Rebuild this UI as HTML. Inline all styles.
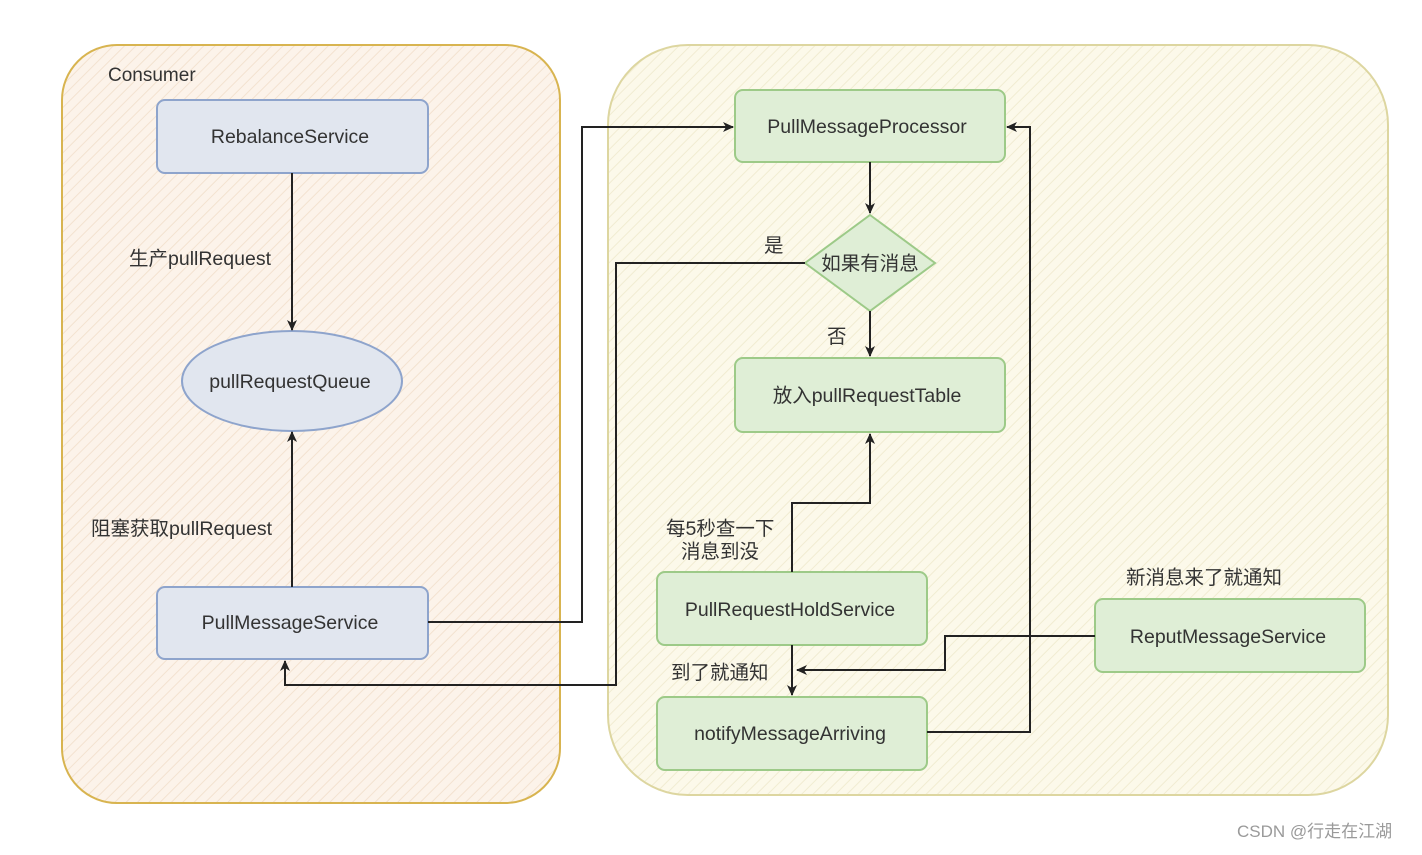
<!DOCTYPE html>
<html><head><meta charset="utf-8"><style>
body{margin:0;background:#fff;}
svg text{font-family:"Liberation Sans","Noto Sans CJK SC",sans-serif;fill:#333;}
</style></head><body>
<svg width="1422" height="850" viewBox="0 0 1422 850" xmlns="http://www.w3.org/2000/svg">
<defs>
<pattern id="h1" width="8" height="8" patternUnits="userSpaceOnUse" patternTransform="rotate(45)"><rect width="8" height="8" fill="#fcf3ea"/><line x1="0" y1="0" x2="0" y2="8" stroke="#f3e2d0" stroke-width="2"/></pattern>
<pattern id="h2" width="8" height="8" patternUnits="userSpaceOnUse" patternTransform="rotate(45)"><rect width="8" height="8" fill="#fcf9ea"/><line x1="0" y1="0" x2="0" y2="8" stroke="#f1ecd2" stroke-width="2"/></pattern>
<marker id="a" markerWidth="12" markerHeight="12" refX="10" refY="6" orient="auto" markerUnits="userSpaceOnUse"><path d="M0,1 L11,6 L0,11 L3,6 Z" fill="#222"/></marker>
</defs>
<rect x="62" y="45" width="498" height="758" rx="55" fill="url(#h1)" stroke="#d8b450" stroke-width="2"/>
<rect x="608" y="45" width="780" height="750" rx="80" fill="url(#h2)" stroke="#ddd6a0" stroke-width="2"/>
<text x="108" y="81" font-size="19">Consumer</text>
<g stroke="#8ea4cc" stroke-width="2" fill="#e1e6ef">
<rect x="157" y="100" width="271" height="73" rx="8"/>
<rect x="157" y="587" width="271" height="72" rx="8"/>
<ellipse cx="292" cy="381" rx="110" ry="50"/>
</g>
<g stroke="#9dca88" stroke-width="2" fill="#dfeed6">
<rect x="735" y="90" width="270" height="72" rx="8"/>
<polygon points="870,215 935,263 870,311 805,263"/>
<rect x="735" y="358" width="270" height="74" rx="8"/>
<rect x="657" y="572" width="270" height="73" rx="8"/>
<rect x="657" y="697" width="270" height="73" rx="8"/>
<rect x="1095" y="599" width="270" height="73" rx="8"/>
</g>
<g font-size="19.5" text-anchor="middle">
<text x="290" y="143">RebalanceService</text>
<text x="290" y="629">PullMessageService</text>
<text x="290" y="388">pullRequestQueue</text>
<text x="867" y="133">PullMessageProcessor</text>
<text x="870" y="270">如果有消息</text>
<text x="867" y="402">放入pullRequestTable</text>
<text x="790" y="616">PullRequestHoldService</text>
<text x="790" y="740">notifyMessageArriving</text>
<text x="1228" y="643">ReputMessageService</text>
</g>
<g fill="none" stroke="#222" stroke-width="2" marker-end="url(#a)">
<path d="M292,173 V330"/>
<path d="M292,587 V432"/>
<path d="M428,622 H582 V127 H733"/>
<path d="M805,263 H616 V685 H285 V661"/>
<path d="M870,162 V213"/>
<path d="M870,311 V356"/>
<path d="M792,572 V503 H870 V434"/>
<path d="M792,645 V695"/>
<path d="M1095,636 H945 V670 H797"/>
<path d="M927,732 H1030 V127 H1007"/>
</g>
<g font-size="19.5">
<text x="129" y="265">生产pullRequest</text>
<text x="91" y="535">阻塞获取pullRequest</text>
<text x="764" y="252">是</text>
<text x="827" y="343">否</text>
<text x="666" y="535">每5秒查一下</text>
<text x="681" y="558">消息到没</text>
<text x="671" y="679">到了就通知</text>
<text x="1126" y="584">新消息来了就通知</text>
</g>
<text x="1237" y="837" font-size="17" style="fill:#9a9a9a">CSDN @行走在江湖</text>
</svg>
</body></html>
